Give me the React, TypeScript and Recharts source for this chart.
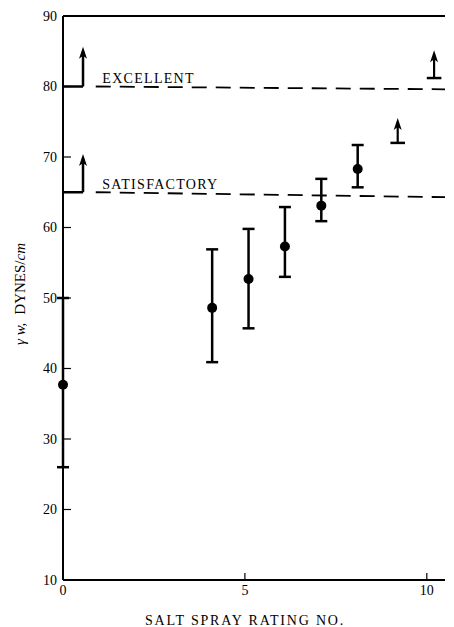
import React from 'react'
import { ScatterChart, Scatter, XAxis, YAxis, ErrorBar, ReferenceLine } from 'recharts'

// measured points: salt spray rating vs gamma-w (mean, range)
const ratings = [0, 4.1, 5.1, 6.1, 7.1, 8.1]
const means = [37.7, 48.6, 52.7, 57.3, 63.1, 68.3]
const highs = [50, 56.9, 59.8, 62.9, 66.9, 71.7]
const lows = [26, 40.9, 45.7, 53.0, 60.9, 65.7]

// lower bounds only (shown with arrows)
const boundRatings = [9.2, 10.2]
const boundValues = [72.0, 81.2]
const boundTips = [75.4, 85.0]

// rating thresholds
const thresholdNames = ['EXCELLENT', 'SATISFACTORY']
const thresholdValues = [80, 65]
const thresholdRightValues = [79.6, 64.3]
const thresholdTips = [85.5, 70.3]

const xTicks = [0, 5, 10]
const yTicks = [10, 20, 30, 40, 50, 60, 70, 80, 90]

const FONT = "'Liberation Serif', 'DejaVu Serif', serif"
const STEP_X = 0.55
const DASH_START = 0.9
const CAP = 0.2

const points = ratings.map((r, i) => ({
  x: r,
  y: means[i],
  err: [means[i] - lows[i], highs[i] - means[i]],
}))

const heads = [
  ...boundRatings.map((r, i) => ({ x: r, y: boundTips[i] })),
  ...thresholdTips.map((t) => ({ x: STEP_X, y: t })),
]

const labels = thresholdNames.map((name, i) => ({ x: 1.08, y: thresholdValues[i] + 0.45, name }))

const Dot = (p: any) => (p.cx == null ? null : <circle cx={p.cx} cy={p.cy} r={5} fill="#000" />)

const ArrowHead = (p: any) =>
  p.cx == null ? null : (
    <path
      d={`M${p.cx},${p.cy - 1} L${p.cx - 4},${p.cy + 11} L${p.cx},${p.cy + 8} L${p.cx + 4},${p.cy + 11} Z`}
      fill="#000"
    />
  )

const LabelText = (p: any) =>
  p.cx == null ? null : (
    <text x={p.cx} y={p.cy} fontFamily={FONT} fontSize={14} letterSpacing={1.3} fill="#000">
      {p.payload.name}
    </text>
  )

const YTitle = () => (
  <text
    x={22}
    y={294}
    transform="rotate(-90 22 294)"
    textAnchor="middle"
    dominantBaseline="middle"
    fontFamily={FONT}
    fontSize={15}
    fill="#000"
  >
    <tspan fontStyle="italic">γ w,</tspan>
    <tspan dx={8}>DYNES/</tspan>
    <tspan fontStyle="italic">cm</tspan>
  </text>
)

const XTitle = () => (
  <text x={245} y={625} textAnchor="middle" fontFamily={FONT} fontSize={14} letterSpacing={1.8} fill="#000">
    SALT SPRAY RATING NO.
  </text>
)

export default function App() {
  return (
    <div style={{ position: 'absolute', left: 0, top: 0, background: '#fff' }}>
      <ScatterChart width={454} height={627} margin={{ top: 16, right: 9, left: 0, bottom: 0 }}>
        <XAxis
          type="number"
          dataKey="x"
          domain={[0, 10.5]}
          ticks={xTicks}
          height={47}
          tickSize={-7}
          tickMargin={12}
          axisLine={{ stroke: '#000', strokeWidth: 1.8 }}
          tickLine={{ stroke: '#000', strokeWidth: 1.2 }}
          tick={{ fill: '#000', fontFamily: FONT, fontSize: 14 }}
          label={{ content: () => <XTitle /> }}
        />
        <YAxis
          type="number"
          dataKey="y"
          domain={[10, 90]}
          ticks={yTicks}
          width={63}
          tickSize={-8}
          tickMargin={14}
          axisLine={{ stroke: '#000', strokeWidth: 2 }}
          tickLine={{ stroke: '#000', strokeWidth: 1.2 }}
          tick={{ fill: '#000', fontFamily: FONT, fontSize: 14 }}
          label={{ content: () => <YTitle /> }}
        />

        <ReferenceLine y={90} stroke="#000" strokeWidth={1.8} />

        {thresholdValues.map((v, i) => (
          <ReferenceLine
            key={'dash' + i}
            segment={[
              { x: DASH_START, y: v },
              { x: 10.5, y: thresholdRightValues[i] },
            ]}
            stroke="#000"
            strokeWidth={1.8}
            strokeDasharray="15 9"
          />
        ))}
        {thresholdValues.map((v, i) => (
          <ReferenceLine
            key={'stepH' + i}
            segment={[
              { x: 0, y: v },
              { x: STEP_X, y: v },
            ]}
            stroke="#000"
            strokeWidth={2.5}
          />
        ))}
        {thresholdValues.map((v, i) => (
          <ReferenceLine
            key={'stepV' + i}
            segment={[
              { x: STEP_X, y: v },
              { x: STEP_X, y: thresholdTips[i] - 0.5 },
            ]}
            stroke="#000"
            strokeWidth={2.5}
          />
        ))}
        {boundRatings.map((r, i) => (
          <ReferenceLine
            key={'cap' + i}
            segment={[
              { x: r - CAP, y: boundValues[i] },
              { x: r + CAP, y: boundValues[i] },
            ]}
            stroke="#000"
            strokeWidth={2.5}
          />
        ))}
        {boundRatings.map((r, i) => (
          <ReferenceLine
            key={'shaft' + i}
            segment={[
              { x: r, y: boundValues[i] },
              { x: r, y: boundTips[i] - 0.5 },
            ]}
            stroke="#000"
            strokeWidth={2.2}
          />
        ))}

        <Scatter data={points} shape={Dot} isAnimationActive={false}>
          <ErrorBar dataKey="err" direction="y" width={6} stroke="#000" strokeWidth={2.5} />
        </Scatter>
        <Scatter data={heads} shape={ArrowHead} isAnimationActive={false} />
        <Scatter data={labels} shape={LabelText} isAnimationActive={false} />
      </ScatterChart>
    </div>
  )
}
